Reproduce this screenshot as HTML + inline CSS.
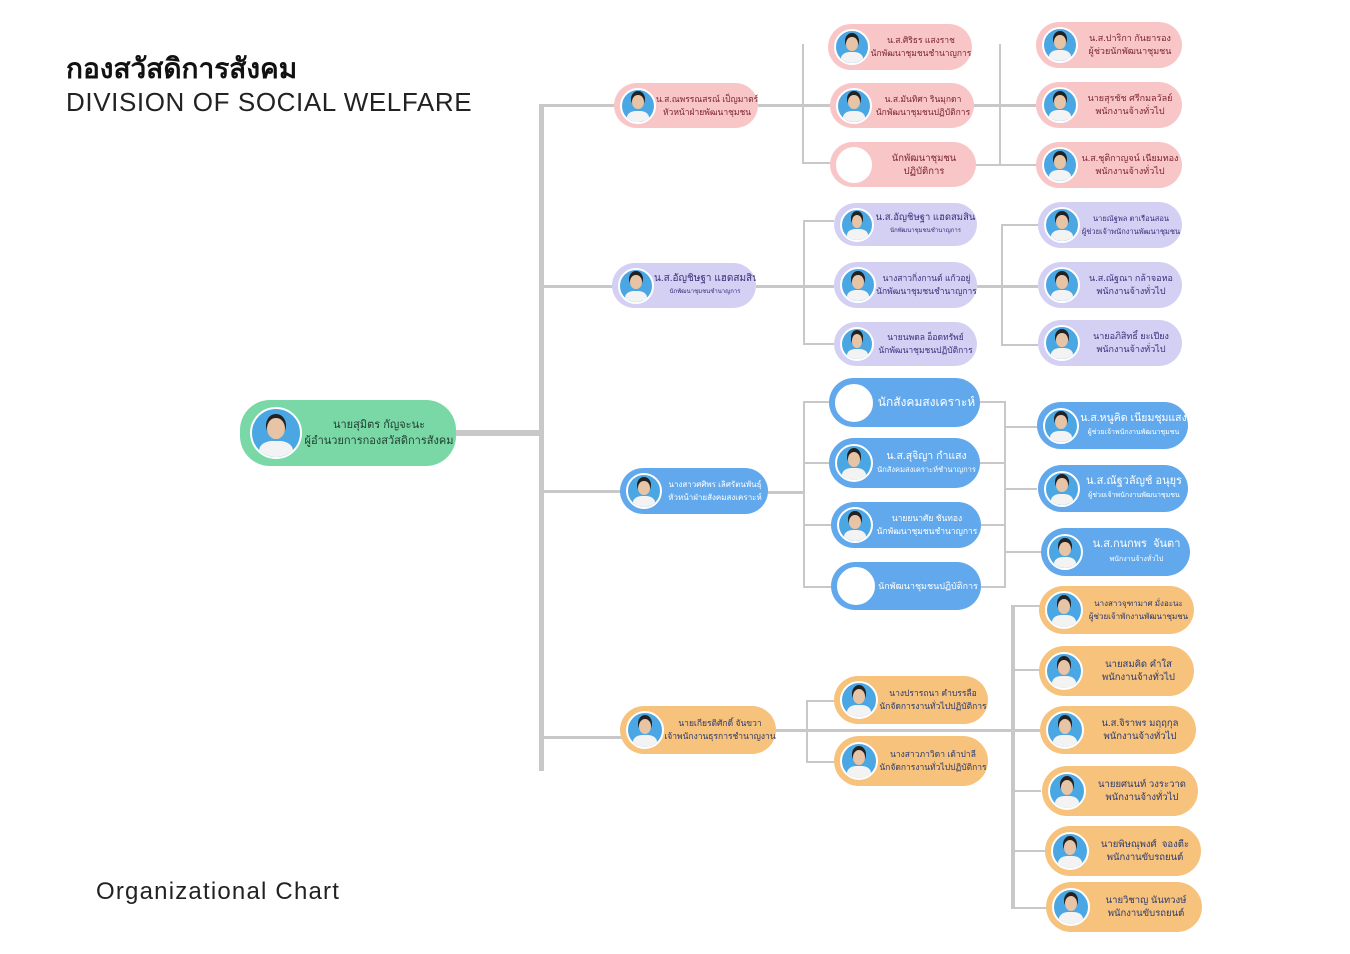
<!DOCTYPE html>
<html><head><meta charset="utf-8">
<style>
*{margin:0;padding:0;box-sizing:border-box}
body{width:1350px;height:954px;background:#fff;position:relative;overflow:hidden;font-family:"Liberation Sans","DejaVu Sans",sans-serif}
.t1{position:absolute;left:66px;top:47px;font-size:28px;font-weight:bold;color:#111}
.t2{position:absolute;left:66px;top:87px;font-size:26px;color:#222;letter-spacing:.6px}
.t3{position:absolute;left:96px;top:878px;font-size:24px;color:#222;letter-spacing:1.2px}
.l{position:absolute;background:#c8c8c8}
.p{position:absolute;border-radius:30px;display:flex;align-items:center}
.p .ph{flex:none;border-radius:50%;margin-left:6px;position:relative;overflow:hidden;background:#4aa7e3;border:2px solid #fff}
.p .ph:before{content:"";position:absolute;left:32%;top:18%;width:36%;height:44%;border-radius:50%;background:#e8c4a6;box-shadow:0 -3px 0 1px #222}
.p .ph:after{content:"";position:absolute;left:15%;top:66%;width:70%;height:50%;border-radius:40% 40% 0 0;background:#f3f3f3}
.p .ph.e{background:#fff}
.p .ph.e:before,.p .ph.e:after{display:none}
.p .tx{flex:1;text-align:center;font-size:9.5px;line-height:13px;white-space:nowrap;overflow:hidden}
.pk{background:#f9c6c7;color:#7a2430}
.lv{background:#d3d0f3;color:#3b2f7a}
.bl{background:#62a8ec;color:#fff}
.or{background:#f6c27c;color:#2b3a6e}
.gr{background:#79d8a6;color:#1e3b2e}
</style></head><body>
<div class="t1">กองสวัสดิการสังคม</div>
<div class="t2">DIVISION OF SOCIAL WELFARE</div>
<div class="t3">Organizational Chart</div>

<div class="l" style="left:456px;top:430px;width:84px;height:6px"></div>
<div class="l" style="left:539px;top:104px;width:5px;height:667px"></div>
<div class="l" style="left:541px;top:104px;width:75px;height:3px"></div>
<div class="l" style="left:541px;top:285px;width:73px;height:3px"></div>
<div class="l" style="left:541px;top:490px;width:81px;height:3px"></div>
<div class="l" style="left:541px;top:736px;width:81px;height:3px"></div>
<div class="l" style="left:758px;top:104px;width:72px;height:3px"></div>
<div class="l" style="left:802px;top:44px;width:2px;height:120px"></div>
<div class="l" style="left:802px;top:162px;width:28px;height:2px"></div>
<div class="l" style="left:972px;top:104px;width:64px;height:3px"></div>
<div class="l" style="left:999px;top:44px;width:2px;height:122px"></div>
<div class="l" style="left:972px;top:164px;width:64px;height:2px"></div>
<div class="l" style="left:756px;top:285px;width:78px;height:3px"></div>
<div class="l" style="left:803px;top:220px;width:2px;height:125px"></div>
<div class="l" style="left:803px;top:220px;width:31px;height:2px"></div>
<div class="l" style="left:803px;top:343px;width:31px;height:2px"></div>
<div class="l" style="left:977px;top:285px;width:61px;height:3px"></div>
<div class="l" style="left:1001px;top:224px;width:2px;height:122px"></div>
<div class="l" style="left:1001px;top:224px;width:37px;height:2px"></div>
<div class="l" style="left:1001px;top:344px;width:37px;height:2px"></div>
<div class="l" style="left:768px;top:491px;width:36px;height:3px"></div>
<div class="l" style="left:803px;top:401px;width:2px;height:187px"></div>
<div class="l" style="left:803px;top:401px;width:26px;height:2px"></div>
<div class="l" style="left:803px;top:462px;width:26px;height:2px"></div>
<div class="l" style="left:803px;top:524px;width:28px;height:2px"></div>
<div class="l" style="left:803px;top:586px;width:28px;height:2px"></div>
<div class="l" style="left:980px;top:401px;width:26px;height:2px"></div>
<div class="l" style="left:980px;top:462px;width:26px;height:2px"></div>
<div class="l" style="left:980px;top:524px;width:26px;height:2px"></div>
<div class="l" style="left:980px;top:586px;width:26px;height:2px"></div>
<div class="l" style="left:1004px;top:401px;width:2px;height:187px"></div>
<div class="l" style="left:1004px;top:426px;width:33px;height:2px"></div>
<div class="l" style="left:1004px;top:488px;width:33px;height:2px"></div>
<div class="l" style="left:1004px;top:551px;width:37px;height:2px"></div>
<div class="l" style="left:776px;top:729px;width:264px;height:3px"></div>
<div class="l" style="left:806px;top:700px;width:2px;height:63px"></div>
<div class="l" style="left:806px;top:700px;width:28px;height:2px"></div>
<div class="l" style="left:806px;top:761px;width:28px;height:2px"></div>
<div class="l" style="left:1011px;top:605px;width:4px;height:304px"></div>
<div class="l" style="left:1011px;top:605px;width:30px;height:2px"></div>
<div class="l" style="left:1011px;top:669px;width:30px;height:2px"></div>
<div class="l" style="left:1011px;top:790px;width:30px;height:2px"></div>
<div class="l" style="left:1011px;top:850px;width:36px;height:2px"></div>
<div class="l" style="left:1011px;top:907px;width:36px;height:2px"></div>

<div class="p gr" style="left:240px;top:400px;width:216px;height:66px"><div class="ph" style="width:52px;height:52px;margin-left:10px"></div><div class="tx" style="font-size:11px;line-height:16px">นายสุมิตร กัญจะนะ<br>ผู้อำนวยการกองสวัสดิการสังคม</div></div>

<div class="p pk" style="left:614px;top:83px;width:144px;height:45px"><div class="ph" style="width:36px;height:36px"></div><div class="tx" style="font-size:8.5px">น.ส.ณพรรณสรณ์ เป็ญมาตร์<br>หัวหน้าฝ่ายพัฒนาชุมชน</div></div>
<div class="p pk" style="left:828px;top:24px;width:144px;height:46px"><div class="ph" style="width:36px;height:36px"></div><div class="tx" style="font-size:8.5px">น.ส.ศิริธร แสงราช<br>นักพัฒนาชุมชนชำนาญการ</div></div>
<div class="p pk" style="left:830px;top:83px;width:144px;height:45px"><div class="ph" style="width:36px;height:36px"></div><div class="tx" style="font-size:8.5px">น.ส.มันทิศา รินมุกดา<br>นักพัฒนาชุมชนปฏิบัติการ</div></div>
<div class="p pk" style="left:830px;top:142px;width:146px;height:45px"><div class="ph e" style="width:36px;height:36px"></div><div class="tx" style="font-size:9.5px">นักพัฒนาชุมชน<br>ปฏิบัติการ</div></div>
<div class="p pk" style="left:1036px;top:22px;width:146px;height:46px"><div class="ph" style="width:36px;height:36px"></div><div class="tx" style="font-size:9px">น.ส.ปาริกา กันยารอง<br>ผู้ช่วยนักพัฒนาชุมชน</div></div>
<div class="p pk" style="left:1036px;top:82px;width:146px;height:46px"><div class="ph" style="width:36px;height:36px"></div><div class="tx" style="font-size:9px">นายสุรชัช ศรีกมลวัลย์<br>พนักงานจ้างทั่วไป</div></div>
<div class="p pk" style="left:1036px;top:142px;width:146px;height:46px"><div class="ph" style="width:36px;height:36px"></div><div class="tx" style="font-size:9px">น.ส.ชุติกาญจน์ เนียมทอง<br>พนักงานจ้างทั่วไป</div></div>

<div class="p lv" style="left:612px;top:263px;width:144px;height:45px"><div class="ph" style="width:36px;height:36px"></div><div class="tx" style="font-size:10px;line-height:12px">น.ส.อัญชิษฐา แฮดสมสิน<br><span style="font-size:6px">นักพัฒนาชุมชนชำนาญการ</span></div></div>
<div class="p lv" style="left:834px;top:203px;width:143px;height:43px"><div class="ph" style="width:34px;height:34px"></div><div class="tx" style="font-size:9.5px;line-height:12px">น.ส.อัญชิษฐา แฮดสมสิน<br><span style="font-size:6px">นักพัฒนาชุมชนชำนาญการ</span></div></div>
<div class="p lv" style="left:834px;top:262px;width:143px;height:46px"><div class="ph" style="width:36px;height:36px"></div><div class="tx" style="font-size:8.5px">นางสาวกิ่งกานต์ แก้วอยู่<br>นักพัฒนาชุมชนชำนาญการ</div></div>
<div class="p lv" style="left:834px;top:322px;width:143px;height:44px"><div class="ph" style="width:34px;height:34px"></div><div class="tx" style="font-size:8.5px">นายนพดล อ็อดทรัพย์<br>นักพัฒนาชุมชนปฏิบัติการ</div></div>
<div class="p lv" style="left:1038px;top:202px;width:144px;height:46px"><div class="ph" style="width:36px;height:36px"></div><div class="tx" style="font-size:7.5px">นายณัฐพล ตาเรือนสอน<br>ผู้ช่วยเจ้าพนักงานพัฒนาชุมชน</div></div>
<div class="p lv" style="left:1038px;top:262px;width:144px;height:46px"><div class="ph" style="width:36px;height:36px"></div><div class="tx" style="font-size:9px">น.ส.ณัฐณา กล้าจอหอ<br>พนักงานจ้างทั่วไป</div></div>
<div class="p lv" style="left:1038px;top:320px;width:144px;height:46px"><div class="ph" style="width:36px;height:36px"></div><div class="tx" style="font-size:9px">นายอภิสิทธิ์ ยะเปียง<br>พนักงานจ้างทั่วไป</div></div>

<div class="p bl" style="left:620px;top:468px;width:148px;height:46px"><div class="ph" style="width:36px;height:36px"></div><div class="tx" style="font-size:8px">นางสาวศศิพร เลิศรัตนพันธุ์<br>หัวหน้าฝ่ายสังคมสงเคราะห์</div></div>
<div class="p bl" style="left:829px;top:378px;width:151px;height:49px"><div class="ph e" style="width:38px;height:38px"></div><div class="tx" style="font-size:12px">นักสังคมสงเคราะห์</div></div>
<div class="p bl" style="left:829px;top:438px;width:151px;height:50px"><div class="ph" style="width:38px;height:38px"></div><div class="tx" style="font-size:10.5px;line-height:13px">น.ส.สุจิญา ก่ำแสง<br><span style="font-size:7.5px">นักสังคมสงเคราะห์ชำนาญการ</span></div></div>
<div class="p bl" style="left:831px;top:502px;width:150px;height:46px"><div class="ph" style="width:36px;height:36px"></div><div class="tx" style="font-size:8.5px">นายยนาศัย ชันทอง<br>นักพัฒนาชุมชนชำนาญการ</div></div>
<div class="p bl" style="left:831px;top:562px;width:150px;height:48px"><div class="ph e" style="width:38px;height:38px"></div><div class="tx" style="font-size:9px">นักพัฒนาชุมชนปฏิบัติการ</div></div>
<div class="p bl" style="left:1037px;top:402px;width:151px;height:47px"><div class="ph" style="width:36px;height:36px"></div><div class="tx" style="font-size:10.5px;line-height:13px">น.ส.หนูคิด เนียมชุมแสง<br><span style="font-size:7px">ผู้ช่วยเจ้าพนักงานพัฒนาชุมชน</span></div></div>
<div class="p bl" style="left:1038px;top:465px;width:150px;height:47px"><div class="ph" style="width:36px;height:36px"></div><div class="tx" style="font-size:11px;line-height:13px">น.ส.ณัฐวลัญช์ อนุยุร<br><span style="font-size:7px">ผู้ช่วยเจ้าพนักงานพัฒนาชุมชน</span></div></div>
<div class="p bl" style="left:1041px;top:528px;width:149px;height:48px"><div class="ph" style="width:36px;height:36px"></div><div class="tx" style="font-size:11px;line-height:14px">น.ส.กนกพร &nbsp;จันตา<br><span style="font-size:7px">พนักงานจ้างทั่วไป</span></div></div>

<div class="p or" style="left:620px;top:706px;width:156px;height:48px"><div class="ph" style="width:38px;height:38px"></div><div class="tx" style="font-size:8.5px">นายเกียรติศักดิ์ จันขวา<br>เจ้าพนักงานธุรการชำนาญงาน</div></div>
<div class="p or" style="left:834px;top:676px;width:154px;height:48px"><div class="ph" style="width:38px;height:38px"></div><div class="tx" style="font-size:8.5px">นางปรารถนา คำบรรลือ<br>นักจัดการงานทั่วไปปฏิบัติการ</div></div>
<div class="p or" style="left:834px;top:736px;width:154px;height:50px"><div class="ph" style="width:38px;height:38px"></div><div class="tx" style="font-size:8.5px">นางสาวภาวิดา เต้าปาลี<br>นักจัดการงานทั่วไปปฏิบัติการ</div></div>
<div class="p or" style="left:1039px;top:586px;width:155px;height:48px"><div class="ph" style="width:38px;height:38px"></div><div class="tx" style="font-size:8px">นางสาวจุฑามาศ มั่งอะนะ<br>ผู้ช่วยเจ้าพักงานพัฒนาชุมชน</div></div>
<div class="p or" style="left:1039px;top:646px;width:155px;height:50px"><div class="ph" style="width:38px;height:38px"></div><div class="tx" style="font-size:9.5px">นายสมคิด คำใส<br>พนักงานจ้างทั่วไป</div></div>
<div class="p or" style="left:1040px;top:706px;width:156px;height:48px"><div class="ph" style="width:38px;height:38px"></div><div class="tx" style="font-size:9.5px">น.ส.จิราพร มฤฤกุล<br>พนักงานจ้างทั่วไป</div></div>
<div class="p or" style="left:1042px;top:766px;width:156px;height:50px"><div class="ph" style="width:38px;height:38px"></div><div class="tx" style="font-size:9.5px">นายยศนนท์ วงระวาด<br>พนักงานจ้างทั่วไป</div></div>
<div class="p or" style="left:1045px;top:826px;width:156px;height:50px"><div class="ph" style="width:38px;height:38px"></div><div class="tx" style="font-size:9.5px">นายพิษณุพงศ์ &nbsp;จองตีะ<br>พนักงานขับรถยนต์</div></div>
<div class="p or" style="left:1046px;top:882px;width:156px;height:50px"><div class="ph" style="width:38px;height:38px"></div><div class="tx" style="font-size:9.5px">นายวิชาญ นันทวงษ์<br>พนักงานขับรถยนต์</div></div>
</body></html>
